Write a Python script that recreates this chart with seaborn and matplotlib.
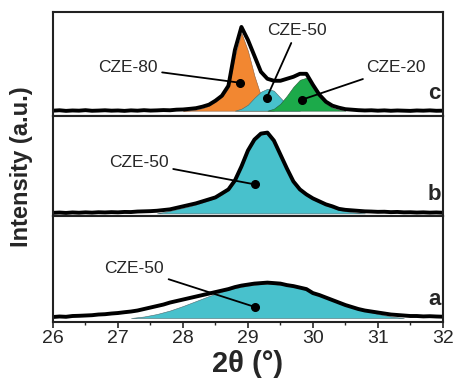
import numpy as np
import pandas as pd
import seaborn as sns
import matplotlib.pyplot as plt

# 2theta sampling grid, 0.1 deg steps
two_theta = np.round(np.linspace(26, 32, 61), 1)

# panel c: measured pattern and the three fitted components
c_total = [5, 5.4, 4.8, 5.2, 5, 5.5, 4.9, 5.1, 5.4, 5,
           5.2, 4.8, 5.3, 5, 5.5, 5.1, 5.3, 5.6, 5.4, 6,
           6.2, 6.8, 7.5, 9, 11, 15, 20, 30, 66, 89,
           76, 60, 44, 37, 35, 35, 37, 39, 42, 42,
           31, 21, 14, 10, 8, 6.5, 6, 5.5, 5.2, 5.4,
           5, 5.3, 4.9, 5.2, 5, 4.8, 5.2, 5, 5.3, 4.9, 5]
cze80_x = [28.0, 28.1, 28.2, 28.3, 28.4, 28.5, 28.6, 28.7, 28.8, 28.9, 29.0, 29.1, 29.2, 29.3, 29.4]
cze80_y = [5, 5.3, 6, 7.5, 10, 14, 19, 28, 60, 83, 65, 40, 20, 9, 5]
cze50c_x = [28.8, 28.9, 29.0, 29.1, 29.2, 29.3, 29.4, 29.5, 29.6, 29.7, 29.8]
cze50c_y = [5, 7, 11, 18, 24, 27, 25, 18, 11, 7, 5]
cze20_x = [29.3, 29.4, 29.5, 29.6, 29.7, 29.8, 29.9, 30.0, 30.1, 30.2, 30.3, 30.4, 30.5]
cze20_y = [5, 7, 12, 20, 29, 36, 38, 30, 20, 12, 8, 6, 5]

# panel b
b_total = [3.5, 3.8, 3.4, 3.9, 3.6, 4, 3.7, 4.1, 3.9, 4.2,
           4, 4.4, 4.3, 4.8, 5, 5.2, 5.6, 6.3, 7, 8.5,
           10, 11.5, 13, 15, 17, 19, 23, 27, 36, 50,
           66, 77, 83, 84, 76, 62, 48, 35, 27, 22,
           18, 15, 12, 10, 7.5, 6.5, 6, 5.5, 5, 4.8,
           4.5, 4.6, 4.2, 4.4, 4, 4.1, 3.8, 4, 3.7, 3.9, 3.6]
b_fit_x = [27.6, 27.8, 28.0, 28.1, 28.2, 28.3, 28.4, 28.5, 28.6, 28.7, 28.8, 28.9,
           29.0, 29.1, 29.2, 29.3, 29.4, 29.5, 29.6, 29.7, 29.8, 29.9,
           30.0, 30.1, 30.2, 30.3, 30.4, 30.5, 30.6, 30.8]
b_fit_y = [3, 5.5, 8.5, 10, 12, 14, 16, 18.5, 22, 26.5, 35, 49,
           65, 76, 82, 83, 75, 61, 47, 34, 26, 21,
           17, 14, 11, 8.5, 6.5, 5.2, 4.2, 3]

# panel a
a_total = [5, 5.5, 5.2, 6, 6.2, 6.5, 6.8, 7.5, 7.8, 8.5,
           9, 9.8, 10.5, 11.5, 13, 14.5, 16, 17.5, 19.5, 21,
           22.5, 24, 25.5, 27, 28.5, 30, 31.5, 33, 35, 36.5,
           37.5, 38.5, 39, 39.5, 39, 38.5, 37, 36, 34.5, 33,
           29, 27, 24.5, 22, 19.5, 17, 15, 13, 11.5, 10.5,
           9.5, 8.5, 7.5, 7, 6.5, 6, 6, 5.6, 5.8, 5.5, 5.3]
a_fit_x = [27.2, 27.4, 27.6, 27.8, 28.0, 28.2, 28.4, 28.6, 28.8, 29.0, 29.2, 29.4,
           29.6, 29.8, 30.0, 30.2, 30.4, 30.6, 30.8, 31.0, 31.2, 31.4]
a_fit_y = [4, 5.5, 8, 11.5, 16, 21, 26, 30.5, 34, 36.5, 38, 38,
           36.5, 34, 30, 25, 20, 15.5, 11.5, 8, 5.5, 4]

labels = ["c", "b", "a"]
ylims = [104, 101, 106]

orange = "#f28731"
cyan = "#48c1cc"
green = "#1caa4a"

sns.set_style("ticks")
plt.rcParams["font.family"] = ["Liberation Sans", "DejaVu Sans"]

fig, axes = plt.subplots(3, 1, figsize=(4.57, 3.87), dpi=100, sharex=True,
                         gridspec_kw={"height_ratios": ylims, "hspace": 0})
fig.subplots_adjust(left=0.116, right=0.969, top=0.969, bottom=0.168)

ax_c, ax_b, ax_a = axes

# fills first, black measured curve on top
ax_c.fill_between(cze80_x, 5, cze80_y, color=orange, ec="#8a5a3a", lw=0.4)
ax_c.fill_between(cze50c_x, 5, cze50c_y, color=cyan, ec="#4a6a70", lw=0.4)
ax_c.fill_between(cze20_x, 5, cze20_y, color=green, ec="#2a5a3a", lw=0.4)
ax_b.fill_between(b_fit_x, 3, b_fit_y, color=cyan, ec="#4a6a70", lw=0.4)
ax_a.fill_between(a_fit_x, 4, a_fit_y, color=cyan, ec="#4a6a70", lw=0.4)

for ax, yy in zip(axes, [c_total, b_total, a_total]):
    df = pd.DataFrame({"x": two_theta, "y": yy})
    sns.lineplot(data=df, x="x", y="y", ax=ax, color="black", lw=2.8)

line_kw = dict(arrowstyle="-", color="black", lw=1.3, shrinkA=1, shrinkB=0)

def tag(ax, txt, txy, dxy):
    ax.annotate(txt, xy=dxy, xytext=txy, fontsize=12.5, ha="center", va="center",
                arrowprops=line_kw)
    ax.plot(*dxy, "o", color="black", ms=5.5)

tag(ax_c, "CZE-80", (27.15, 48), (28.88, 33))
tag(ax_c, "CZE-50", (29.75, 85), (29.29, 18))
tag(ax_c, "CZE-20", (31.28, 48), (29.83, 16))
tag(ax_b, "CZE-50", (27.32, 54), (29.11, 32))
tag(ax_a, "CZE-50", (27.25, 54), (29.11, 15))

for ax, lab, top in zip(axes, labels, ylims):
    ax.set_ylim(0, top)
    ax.set_xlim(26, 32)
    ax.set_yticks([])
    ax.set_ylabel("")
    ax.set_xlabel("")
    ax.text(0.995, 0.11, lab, transform=ax.transAxes, ha="right", va="bottom",
            fontsize=16, fontweight="bold")
    for s in ax.spines.values():
        s.set_visible(True)
        s.set_linewidth(1.5)
        s.set_color("#222222")
    ax.set_xticks(range(26, 33))
    ax.set_xticks(np.arange(26.5, 32, 1), minor=True)
    ax.tick_params(axis="x", which="major", direction="out", length=4, width=1.2,
                   labelsize=14, pad=2)
    ax.tick_params(axis="x", which="minor", direction="out", length=2.5, width=1)

ax_a.set_xlabel("2θ (°)", fontsize=21, fontweight="bold", labelpad=2)
fig.text(0.047, 0.568, "Intensity (a.u.)", rotation=90, ha="center", va="center",
         fontsize=17, fontweight="bold")

fig.savefig("out.png", dpi=100)
